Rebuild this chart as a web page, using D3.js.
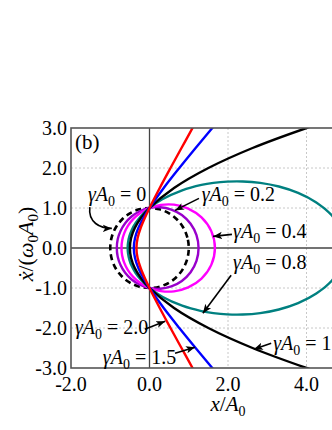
<!DOCTYPE html>
<html><head><meta charset="utf-8">
<script src="https://cdn.jsdelivr.net/npm/d3@7"></script>
<style>
html,body{margin:0;padding:0;background:#fff;overflow:hidden;}
svg{display:block;}
text{font-family:"Liberation Serif","Times New Roman",serif;fill:#000;}
</style></head>
<body><svg id="c" width="400" height="430"></svg>
<script>
// ---- data (x/A0, xdot/(w0 A0)) ----
const xTicks = [-2, 0, 2, 4];
const yTicks = [-3, -2, -1, 0, 1, 2, 3];
const xGrid = [2, 4];
const yGrid = [-2, -1, 1, 2];

const curveG0 = [[1,0],[0.966,0.259],[0.866,0.5],[0.707,0.707],[0.5,0.866],[0.259,0.966],[0,1],[-0.259,0.966],[-0.5,0.866],[-0.707,0.707],[-0.866,0.5],[-0.966,0.259],[-1,0],[-0.966,-0.259],[-0.866,-0.5],[-0.707,-0.707],[-0.5,-0.866],[-0.259,-0.966],[0,-1],[0.259,-0.966],[0.5,-0.866],[0.707,-0.707],[0.866,-0.5],[0.966,-0.259]];
const curveG02 = [[1.25,0],[1.197,0.321],[1.047,0.605],[0.824,0.824],[0.556,0.962],[0.273,1.019],[0,1],[-0.246,0.918],[-0.455,0.787],[-0.620,0.620],[-0.738,0.426],[-0.810,0.217],[-0.833,0],[-0.810,-0.217],[-0.738,-0.426],[-0.620,-0.620],[-0.455,-0.787],[-0.246,-0.918],[0,-1],[0.273,-1.019],[0.556,-0.962],[0.824,-0.824],[1.047,-0.605],[1.197,-0.321]];
const curveG04 = [[1.667,0],[1.574,0.422],[1.325,0.765],[0.986,0.986],[0.625,1.083],[0.289,1.077],[0,1],[-0.235,0.875],[-0.417,0.722],[-0.551,0.551],[-0.643,0.371],[-0.697,0.187],[-0.714,0],[-0.697,-0.187],[-0.643,-0.371],[-0.551,-0.551],[-0.417,-0.722],[-0.235,-0.875],[0,-1],[0.289,-1.077],[0.625,-1.083],[0.986,-0.986],[1.325,-0.765],[1.574,-0.422]];
const curveG08 = [[5,0],[4.906,0.430],[4.642,0.818],[4.250,1.139],[3.786,1.378],[3.296,1.537],[2.819,1.628],[2.377,1.664],[1.978,1.660],[1.628,1.628],[1.323,1.577],[0.833,1.443],[0.326,1.218],[0,1],[-0.214,0.800],[-0.357,0.619],[-0.452,0.452],[-0.512,0.295],[-0.545,0.146],[-0.556,0],[-0.545,-0.146],[-0.512,-0.295],[-0.452,-0.452],[-0.357,-0.619],[-0.214,-0.800],[0,-1],[0.326,-1.218],[0.833,-1.443],[1.323,-1.577],[1.628,-1.628],[1.978,-1.660],[2.377,-1.664],[2.819,-1.628],[3.296,-1.537],[3.786,-1.378],[4.250,-1.139],[4.642,-0.818],[4.906,-0.430]];
const curveG10 = [[4.781,-3.25],[4,-3],[2.625,-2.5],[1.5,-2],[0.625,-1.5],[0,-1],[-0.219,-0.75],[-0.375,-0.5],[-0.469,-0.25],[-0.5,0],[-0.469,0.25],[-0.375,0.5],[-0.219,0.75],[0,1],[0.625,1.5],[1.5,2],[2.625,2.5],[4,3],[4.781,3.25]];
const curveG15 = [[1.815,-3.25],[1.6,-3],[1.175,-2.5],[0.760,-2],[0.362,-1.5],[0,-1],[-0.156,-0.75],[-0.284,-0.5],[-0.369,-0.25],[-0.4,0],[-0.369,0.25],[-0.284,0.5],[-0.156,0.75],[0,1],[0.362,1.5],[0.760,2],[1.175,2.5],[1.6,3],[1.815,3.25]];
const curveG20 = [[1.239,-3.25],[1.097,-3],[0.815,-2.5],[0.535,-2],[0.261,-1.5],[0,-1],[-0.120,-0.75],[-0.226,-0.5],[-0.303,-0.25],[-0.333,0],[-0.303,0.25],[-0.226,0.5],[-0.120,0.75],[0,1],[0.261,1.5],[0.535,2],[0.815,2.5],[1.097,3],[1.239,3.25]];

// annotation labels: [x, y, value-text] in data units
const labels = [[-1.57,1.17,"0"],[1.33,1.17,"0.2"],[2.13,0.24,"0.4"],[2.13,-0.52,"0.8"],[3.15,-2.56,"1.0"],[-1.90,-2.16,"2.0"],[-1.19,-2.91,"1.5"]];
// straight arrows: [x1,y1,x2,y2] in data units (tip at x2,y2)
const arrows = [[1.26,1.24,0.65,0.94],[2.10,0.34,1.62,0.29],[2.08,-0.68,1.36,-1.63],[3.10,-2.38,2.66,-2.53],[-0.12,-2.03,0.40,-1.83],[0.65,-2.63,1.16,-2.48]];
// curved arrow for gammaA0=0: start, control1, control2, tip
const curvedArrow = [[-1.52,1.02],[-1.57,0.64],[-1.26,0.49],[-0.96,0.49]];

// ---- drawing ----
const svg = d3.select("#c");
const x = d3.scaleLinear().domain([-2,6]).range([71,385]);
const y = d3.scaleLinear().domain([-3,3]).range([368,128]);

const defs = svg.append("defs");
defs.append("clipPath").attr("id","clip")
  .append("rect").attr("x",x(-2)).attr("y",y(3)).attr("width",x(6)-x(-2)).attr("height",y(-3)-y(3));
defs.append("marker").attr("id","ah").attr("viewBox","0 0 10 10").attr("refX",10).attr("refY",5)
  .attr("markerWidth",9).attr("markerHeight",9).attr("markerUnits","userSpaceOnUse").attr("orient","auto")
  .append("path").attr("d","M0,1 L10,5 L0,9 L2.5,5 Z").attr("fill","#000");

// grid
svg.append("g").selectAll("line").data(xGrid).join("line")
  .attr("x1",d=>x(d)).attr("x2",d=>x(d)).attr("y1",y(3)).attr("y2",y(-3))
  .attr("stroke","#c8c8c8").attr("stroke-width",1).attr("stroke-dasharray","2,2");
svg.append("g").selectAll("line").data(yGrid).join("line")
  .attr("y1",d=>y(d)).attr("y2",d=>y(d)).attr("x1",x(-2)).attr("x2",x(6))
  .attr("stroke","#c8c8c8").attr("stroke-width",1).attr("stroke-dasharray","2,2");
// zero axes
svg.append("line").attr("x1",x(0)).attr("x2",x(0)).attr("y1",y(3)).attr("y2",y(-3)).attr("stroke","#444").attr("stroke-width",1.3);
svg.append("line").attr("y1",y(0)).attr("y2",y(0)).attr("x1",x(-2)).attr("x2",x(6)).attr("stroke","#444").attr("stroke-width",1.3);

// curves
const plot = svg.append("g").attr("clip-path","url(#clip)");
const closed = d3.line().x(d=>x(d[0])).y(d=>y(d[1])).curve(d3.curveCatmullRomClosed.alpha(0.5));
const open = d3.line().x(d=>x(d[0])).y(d=>y(d[1])).curve(d3.curveCatmullRom.alpha(0.5));
plot.append("path").attr("d",closed(curveG0)).attr("fill","none").attr("stroke","#000").attr("stroke-width",2.6).attr("stroke-dasharray","6,4");
plot.append("path").attr("d",closed(curveG02)).attr("fill","none").attr("stroke","#9900cc").attr("stroke-width",2.4);
plot.append("path").attr("d",closed(curveG04)).attr("fill","none").attr("stroke","#ff00ff").attr("stroke-width",2.4);
plot.append("path").attr("d",closed(curveG08)).attr("fill","none").attr("stroke","#008080").attr("stroke-width",2.4);
plot.append("path").attr("d",open(curveG10)).attr("fill","none").attr("stroke","#000").attr("stroke-width",2.4);
plot.append("path").attr("d",open(curveG15)).attr("fill","none").attr("stroke","#0000ff").attr("stroke-width",2.4);
plot.append("path").attr("d",open(curveG20)).attr("fill","none").attr("stroke","#ff0000").attr("stroke-width",2.4);

// frame
svg.append("rect").attr("x",x(-2)).attr("y",y(3)).attr("width",x(6)-x(-2)).attr("height",y(-3)-y(3))
  .attr("fill","none").attr("stroke","#555").attr("stroke-width",1.6);

// tick labels
const FS = 20;
const fmt = d => d3.format(".1f")(d).replace("\u2212","-");
svg.append("g").selectAll("text").data(xTicks).join("text")
  .attr("x",d=>x(d)).attr("y",y(-3)+23).attr("text-anchor","middle").attr("font-size",FS)
  .text(fmt);
svg.append("g").selectAll("text").data(yTicks).join("text")
  .attr("x",x(-2)-4).attr("y",d=>y(d)+7).attr("text-anchor","end").attr("font-size",FS)
  .text(fmt);

// axis titles
const xt = svg.append("text").attr("x",x(2)).attr("y",411).attr("text-anchor","middle").attr("font-size",21);
xt.append("tspan").attr("font-style","italic").text("x");
xt.append("tspan").text("/");
xt.append("tspan").attr("font-style","italic").text("A");
xt.append("tspan").attr("font-size",14).attr("dy",5).text("0");

const yt = svg.append("text").attr("transform",`translate(33,${y(0)-4}) rotate(-90)`).attr("text-anchor","middle").attr("font-size",22);
yt.append("tspan").attr("font-style","italic").text("ẋ");
yt.append("tspan").text("/(");
yt.append("tspan").attr("font-style","italic").text("ω");
yt.append("tspan").attr("font-size",15).attr("dy",5).text("0");
yt.append("tspan").attr("font-style","italic").attr("dy",-5).text("A");
yt.append("tspan").attr("font-size",15).attr("dy",5).text("0");
yt.append("tspan").attr("dy",-5).text(")");

svg.append("text").attr("x",x(-2)+4).attr("y",y(3)+21).attr("font-size",21).text("(b)");

// annotations
labels.forEach(l=>{
  const t = svg.append("text").attr("x",x(l[0])).attr("y",y(l[1])).attr("font-size",20);
  t.append("tspan").attr("font-style","italic").text("γ");
  t.append("tspan").attr("font-style","italic").text("A");
  t.append("tspan").attr("font-size",14).attr("dy",5).text("0");
  t.append("tspan").attr("dy",-5).text(" = " + l[2]);
});
svg.append("g").selectAll("line").data(arrows).join("line")
  .attr("x1",d=>x(d[0])).attr("y1",d=>y(d[1])).attr("x2",d=>x(d[2])).attr("y2",d=>y(d[3]))
  .attr("stroke","#000").attr("stroke-width",1.6).attr("marker-end","url(#ah)");
const ca = curvedArrow.map(p=>[x(p[0]),y(p[1])]);
svg.append("path").attr("d",`M${ca[0]}C${ca[1]} ${ca[2]} ${ca[3]}`).attr("fill","none")
  .attr("stroke","#000").attr("stroke-width",1.6).attr("marker-end","url(#ah)");
</script></body></html>
